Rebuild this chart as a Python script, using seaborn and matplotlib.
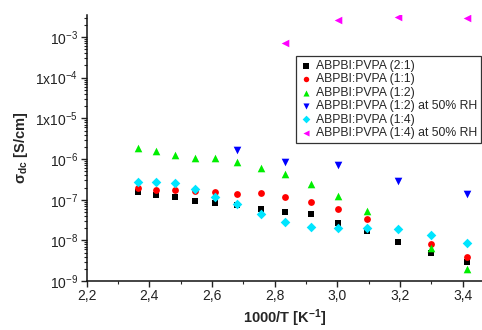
import numpy as np
import pandas as pd
import matplotlib
matplotlib.use("Agg")
import matplotlib.pyplot as plt
from matplotlib.ticker import FixedLocator, FixedFormatter, LogLocator, NullFormatter, MultipleLocator, FuncFormatter
import seaborn as sns

# Inverse temperature (1000/T in 1/K) for 150 °C down to 20 °C
inv_T = [2.364, 2.421, 2.481, 2.545, 2.611, 2.681, 2.755, 2.833, 2.915, 3.003, 3.096, 3.195, 3.300, 3.413]

# DC conductivity in S/cm (None = not measured)
sigma_2_1 = [1.55e-7, 1.3e-7, 1.14e-7, 9.3e-8, 8.3e-8, 7.4e-8, 5.9e-8, 5.0e-8, 4.5e-8, 2.7e-8, 1.7e-8, 9.1e-9, 4.9e-9, 2.9e-9]
sigma_1_1 = [1.94e-7, 1.74e-7, 1.74e-7, 1.6e-7, 1.55e-7, 1.4e-7, 1.45e-7, 1.15e-7, 8.7e-8, 5.9e-8, 3.3e-8, None, 8.1e-9, 3.9e-9]
sigma_1_2 = [1.87e-6, 1.56e-6, 1.26e-6, 1.05e-6, 1.05e-6, 8.3e-7, 6.0e-7, 4.3e-7, 2.4e-7, 1.23e-7, 5.2e-8, None, 6.5e-9, 1.96e-9]
sigma_1_2_rh = [None, None, None, None, None, 1.65e-6, None, 8.3e-7, None, 7.1e-7, None, 2.9e-7, None, 1.38e-7]
sigma_1_4 = [2.7e-7, 2.7e-7, 2.6e-7, 1.8e-7, 1.15e-7, 7.8e-8, 4.5e-8, 2.8e-8, 2.1e-8, 2.0e-8, 2.0e-8, 1.9e-8, 1.35e-8, 8.5e-9]
sigma_1_4_rh = [None, None, None, None, None, None, None, 7.1e-4, None, 2.6e-3, None, 3.1e-3, None, 3.0e-3]

series = [
    ("ABPBI:PVPA (2:1)", sigma_2_1, "s", "#000000", 22),
    ("ABPBI:PVPA (1:1)", sigma_1_1, "o", "#ff0000", 24),
    ("ABPBI:PVPA (1:2)", sigma_1_2, "^", "#00ee00", 30),
    ("ABPBI:PVPA (1:2) at 50% RH", sigma_1_2_rh, "v", "#0000ff", 30),
    ("ABPBI:PVPA (1:4)", sigma_1_4, "D", "#00e5ff", 24),
    ("ABPBI:PVPA (1:4) at 50% RH", sigma_1_4_rh, "<", "#ff00ff", 30),
]

sns.set_theme(style="ticks")
plt.rcParams["font.family"] = ["Liberation Sans", "DejaVu Sans"]
plt.rcParams["mathtext.fontset"] = "custom"
plt.rcParams["mathtext.rm"] = "Liberation Sans"
plt.rcParams["mathtext.it"] = "Liberation Sans:italic"
plt.rcParams["mathtext.bf"] = "Liberation Sans:bold"

fig = plt.figure(figsize=(4.82, 3.30), dpi=100)
ax = fig.add_axes([0.180, 0.148, 0.820, 0.807])

for label, vals, marker, color, size in series:
    df = pd.DataFrame({"x": inv_T, "y": vals}).dropna()
    sns.scatterplot(data=df, x="x", y="y", ax=ax, marker=marker, color=color,
                    s=size, linewidth=0, edgecolor=color, label=label)

ax.set_yscale("log")
ax.set_xlim(2.2, 3.462)
ax.set_ylim(1e-9, 3.5e-3)

# x ticks with decimal commas
ax.xaxis.set_major_locator(MultipleLocator(0.2))
ax.xaxis.set_minor_locator(MultipleLocator(0.1))
ax.xaxis.set_major_formatter(FuncFormatter(lambda v, p: f"{v:.1f}".replace(".", ",")))

# y ticks at each decade
decades = [1e-9, 1e-8, 1e-7, 1e-6, 1e-5, 1e-4, 1e-3]
ylabels = [r"$\mathregular{10^{-9}}$", r"$\mathregular{10^{-8}}$", r"$\mathregular{10^{-7}}$",
           r"$\mathregular{10^{-6}}$", r"$\mathregular{1x10^{-5}}$", r"$\mathregular{1x10^{-4}}$",
           r"$\mathregular{10^{-3}}$"]
ax.yaxis.set_major_locator(FixedLocator(decades))
ax.yaxis.set_major_formatter(FixedFormatter(ylabels))
ax.yaxis.set_minor_locator(LogLocator(base=10, subs=np.arange(2, 10), numticks=20))
ax.yaxis.set_minor_formatter(NullFormatter())

ax.tick_params(axis="both", which="major", direction="out", length=4, width=1.0,
               labelsize=10, colors="#222222", pad=2)
ax.tick_params(axis="both", which="minor", direction="out", length=2, width=0.8)

for side in ("top", "right"):
    ax.spines[side].set_visible(False)
for side in ("left", "bottom"):
    ax.spines[side].set_linewidth(1.1)
    ax.spines[side].set_color("#111111")

ax.set_xlabel(r"1000/T [K$^{\mathbf{-1}}$]", fontsize=10.5, fontweight="bold", labelpad=3)
ax.set_ylabel(r"$\mathbf{\sigma_{dc}}$ [S/cm]", fontsize=10.5, fontweight="bold", labelpad=4)

leg = ax.legend(loc="upper left", bbox_to_anchor=(0.53, 0.845), fontsize=8.8,
                frameon=True, fancybox=False, edgecolor="#333333", framealpha=1,
                handletextpad=0.3, handlelength=1.0, borderpad=0.3, labelspacing=0.12,
                borderaxespad=0, markerscale=0.8)
leg.get_frame().set_linewidth(0.9)

fig.savefig("out.png", dpi=100)
